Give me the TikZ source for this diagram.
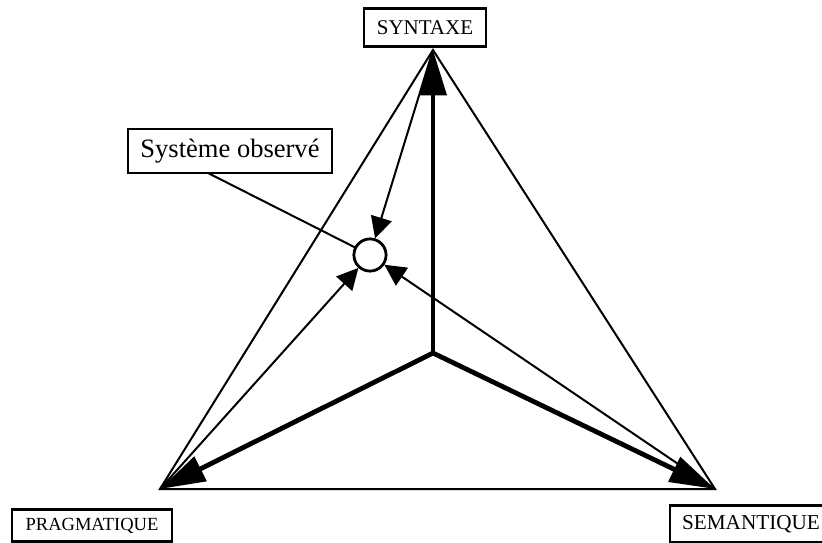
\documentclass[tikz,border=0pt]{standalone}
\usepackage{fontspec}
\setmainfont{Liberation Serif}
\usetikzlibrary{arrows.meta}
\begin{document}
\begin{tikzpicture}[x=0.75pt,y=-0.75pt,
  labelbox/.style={draw,line width=2.2pt,inner sep=0pt,fill=white},
  edge/.style={line width=1.5pt,line join=miter},
  thickarrow/.style={line width=3.6pt,-{Triangle[length=34pt,width=20pt]}},
  thinarrow/.style={line width=1.5pt,-{Triangle[length=16pt,width=16pt]}},
  pointer/.style={line width=1.5pt},
  obsbox/.style={draw,circle,line width=2pt,fill=white,minimum size=24pt,inner sep=0pt}]
\useasboundingbox (0,0) rectangle (822,543);
\coordinate (T) at (433,50);
\coordinate (L) at (160,489);
\coordinate (R) at (715,489);
\coordinate (C) at (433,353);
% triangle
\draw[edge] (T) -- (L) -- (R) -- cycle;
% thick arrows from centre
\draw[thickarrow] (C) -- (T);
\draw[thickarrow] (C) -- (L);
\draw[thickarrow] (C) -- (R);
% labels
\node[labelbox,minimum width=91.5pt,minimum height=29pt,font=\fontsize{15.75}{18}\selectfont] (syn) at (425,27.5) {SYNTAXE};
\node[labelbox,minimum width=153pt,minimum height=33pt,font=\fontsize{19.9}{23}\selectfont] (sys) at (230,151) {Système observé};
\node[labelbox,minimum width=120pt,minimum height=24.5pt,font=\fontsize{13.9}{16}\selectfont] (prag) at (92,525.5) {PRAGMATIQUE};
\node[labelbox,minimum width=121.5pt,minimum height=28pt,font=\fontsize{15.9}{18}\selectfont] (sem) at (751,524) {SEMANTIQUE};
% observed system
\node[obsbox] (obs) at (370,255) {};
\coordinate (pt) at (208,173);
\draw[pointer] (pt) -- (obs);
\node[obsbox] at (obs) {};
\draw[thinarrow] (T) -- (obs);
\draw[thinarrow] (L) -- (obs);
\draw[thinarrow] (R) -- (obs);
\end{tikzpicture}
\end{document}
